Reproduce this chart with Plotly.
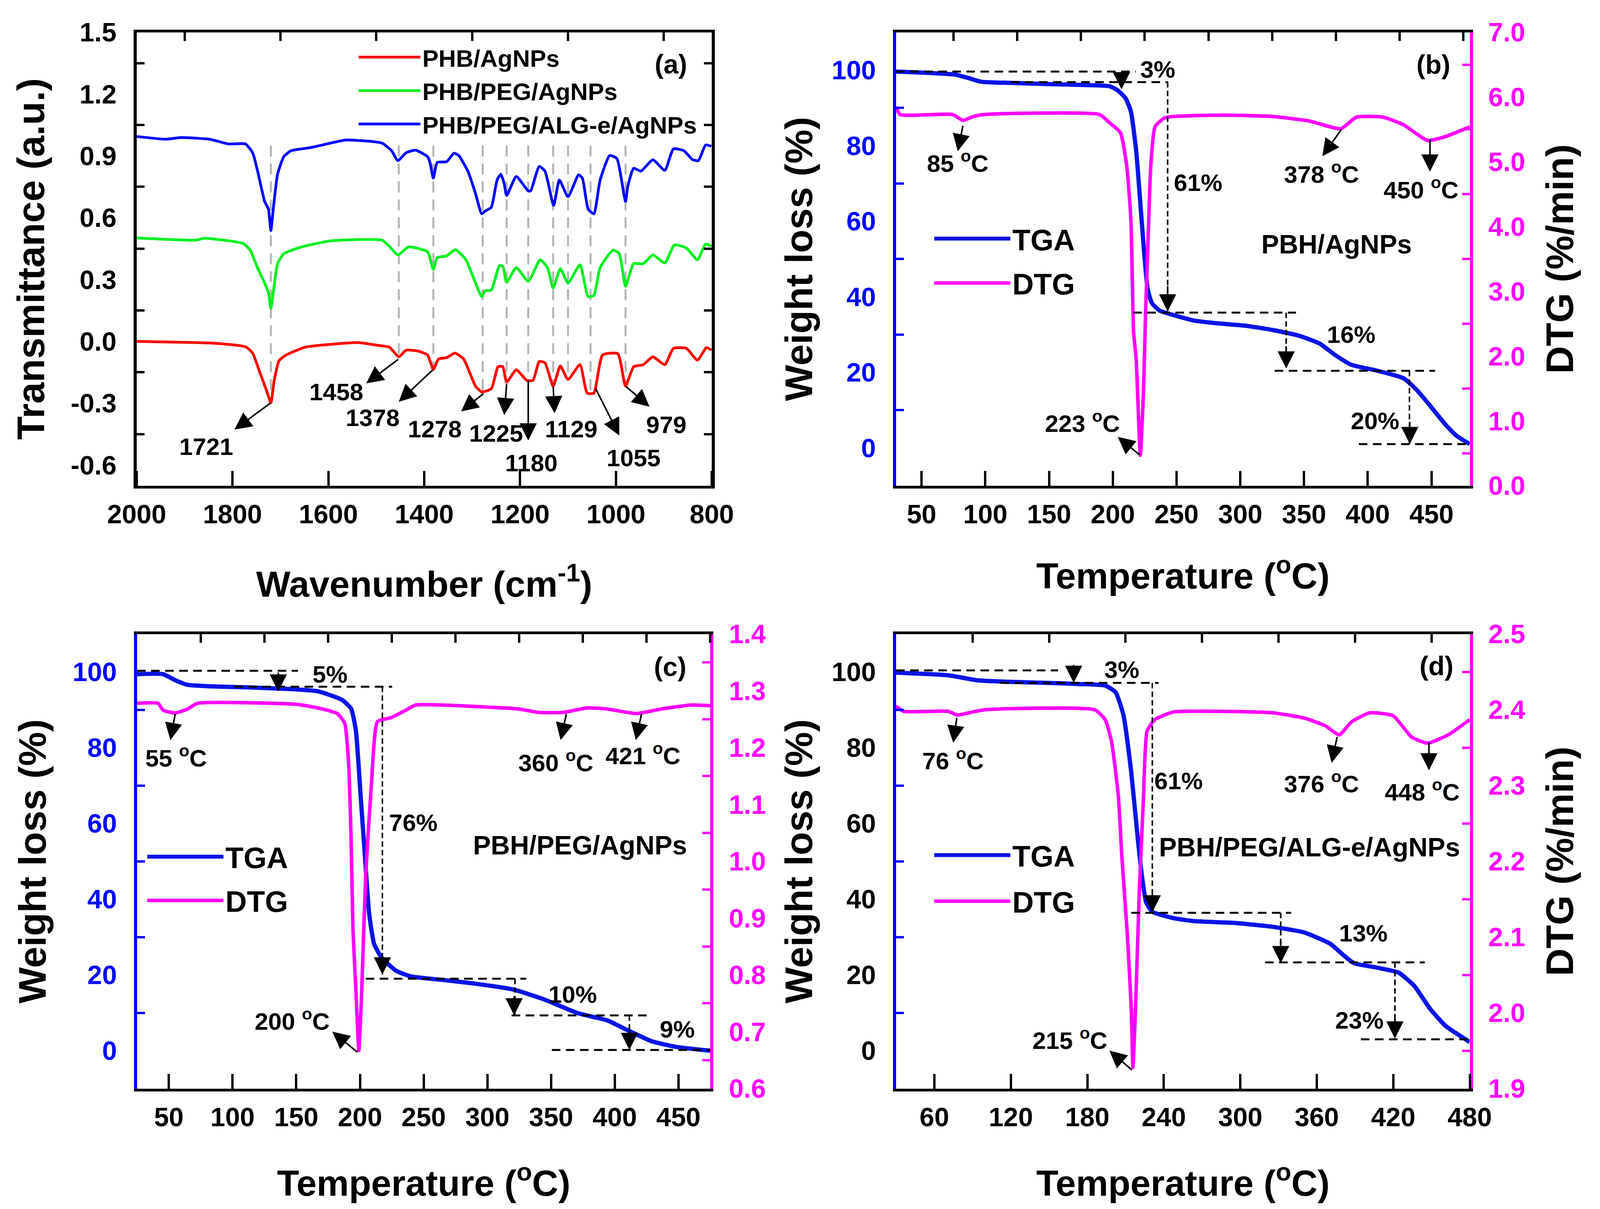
import plotly.graph_objects as go

W, H = 4237, 3096
FONT = "Liberation Sans"
BLUE = "#0000ff"
PINK = "#ff00ff"

# ---- panel a: FTIR
wn_red = [2000,1878,1838,1773,1758,1743,1728,1720,1713,1703,1688,1648,1598,1538,1498,1473,1453,1438,1413,1393,1381,1370,1353,1336,1318,1293,1280,1260,1246,1236,1228,1208,1186,1173,1160,1148,1131,1116,1100,1075,1060,1046,1028,996,980,963,943,923,898,880,853,830,811,801]
t_red = [0,-.006,-.009,-.026,-.057,-.151,-.245,-.298,-.189,-.094,-.066,-.028,-.015,-.006,-.019,-.028,-.075,-.043,-.047,-.066,-.136,-.085,-.079,-.057,-.085,-.217,-.245,-.230,-.123,-.123,-.198,-.138,-.189,-.189,-.098,-.104,-.217,-.119,-.185,-.113,-.251,-.251,-.066,-.060,-.217,-.123,-.113,-.075,-.113,-.034,-.034,-.091,-.030,-.043]
wn_green = [2000,1878,1858,1778,1763,1748,1733,1725,1720,1715,1706,1693,1658,1598,1538,1488,1473,1455,1433,1393,1381,1373,1353,1335,1313,1293,1280,1273,1260,1243,1236,1228,1208,1183,1158,1143,1131,1116,1100,1075,1058,1046,1033,1006,993,980,963,943,923,898,878,853,830,813,801]
t_green = [.502,.491,.5,.475,.443,.358,.283,.236,.160,.236,.377,.425,.457,.487,.494,.491,.462,.419,.458,.434,.349,.406,.415,.445,.396,.283,.217,.245,.249,.368,.364,.287,.358,.292,.396,.358,.260,.353,.283,.372,.217,.223,.358,.443,.425,.268,.377,.377,.419,.381,.468,.453,.396,.472,.462]
wn_blue = [2000,1938,1908,1848,1808,1773,1758,1748,1733,1725,1720,1715,1706,1693,1678,1638,1588,1563,1518,1488,1468,1455,1438,1418,1393,1388,1381,1373,1353,1338,1328,1308,1293,1280,1273,1260,1248,1240,1233,1228,1208,1183,1178,1160,1148,1130,1118,1100,1078,1070,1058,1046,1033,1013,998,983,980,975,963,948,923,898,880,858,841,828,813,801]
t_blue = [.994,.981,.989,.981,.958,.958,.915,.830,.679,.642,.538,.642,.811,.896,.925,.940,.966,.977,.972,.962,.925,.877,.915,.928,.896,.868,.792,.868,.872,.913,.902,.821,.717,.619,.632,.651,.783,.811,.764,.708,.800,.730,.730,.849,.826,.660,.783,.702,.808,.792,.642,.619,.783,.902,.887,.708,.679,.755,.840,.826,.881,.830,.934,.925,.883,.877,.953,.947]

# ---- panel b
tga_b_x = [30,57.8,76.3,86.6,96.9,119.5,148.4,181.3,197.7,203.9,210.1,214.2,218.3,221.2,224.5,227.4,230.7,236.8,247.1,263.6,284.2,304.7,325.3,345.9,362.3,374.7,387,407.6,428.2,438.5,448.8,461.1,469.3,480]
tga_b_y = [99.6,99.2,98.8,97.9,96.9,96.6,96.3,96,95.7,94.6,92.5,89,78.7,66.5,52.1,41.9,38.3,36.3,35.2,33.7,32.9,32.3,31.2,29.7,27.6,24.5,22,20.4,18.4,15.3,11.2,6.1,3.3,1]
dtg_b_x = [30,33.1,74.3,82.5,90.7,99,189.5,197.7,206,210.9,214.2,216.3,218.3,221.6,224.1,225.7,227.4,229.8,233.1,240.9,284.2,325.3,354.1,378.8,391.2,411.7,428.2,446.7,461.1,480]
dtg_b_y = [5.85,5.73,5.73,5.64,5.70,5.73,5.73,5.60,5.45,4.94,4.10,2.37,1.96,0.47,1.48,2.67,3.63,4.94,5.54,5.68,5.72,5.70,5.63,5.51,5.69,5.69,5.57,5.33,5.39,5.54]

# ---- panel c
tga_c_x = [25,45.4,55,64.6,82,112.8,143.6,166.8,186,193,196.8,200.7,204.1,207.2,211.1,216.9,228.4,240,267,290.1,320.9,344,371,394.1,409.5,428.8,448.1,475]
tga_c_y = [99.4,99.4,97.8,96.6,96.2,95.9,95.5,94.9,92.6,90.3,84.5,66.4,50.3,36.2,28.2,24.6,21.1,19.6,18.6,17.7,16.1,13.6,9.9,8,5.5,2.5,1,0]
dtg_c_x = [25,41.5,45.4,55,64.6,72.4,151.3,170.6,182.2,188,191,193,194.5,196.8,199.1,201.4,204.5,209.2,213.8,224.6,236.1,243.8,286.2,324.8,340.2,359.4,378.7,394.1,417.2,436.5,459.6,475]
dtg_c_y = [1.278,1.278,1.266,1.261,1.268,1.278,1.276,1.268,1.260,1.243,1.176,1.042,.881,.774,.667,.774,.975,1.143,1.246,1.253,1.266,1.275,1.273,1.268,1.262,1.262,1.270,1.268,1.260,1.268,1.275,1.274]

# ---- panel d
tga_d_x = [30,70.7,93.3,115.9,148.8,173.4,194,202.2,208.4,214.5,219.5,222.8,226.1,231,247.4,263.9,296.7,325.5,350.2,370.7,381,389.2,407.7,424.2,436.5,448.8,461.2,480]
tga_d_y = [99.8,99.1,97.8,97.4,97.1,96.8,96.4,94.6,88.5,73.4,56.3,46.3,39.2,36.7,35,34.2,33.7,32.7,31.2,28.2,25.2,23.1,21.9,20.6,17.1,11.1,6.5,2.3]
dtg_d_x = [30,35.7,70.7,78.1,87.1,99.5,185.8,194,198.9,204.3,207.1,211.3,214.5,215.8,217.8,220.7,224,226.9,233,247.4,284.4,325.5,350.2,366.6,377.7,387.2,401.6,420,434.4,446.8,463.2,480]
dtg_d_y = [2.405,2.398,2.398,2.393,2.396,2.400,2.400,2.387,2.359,2.287,2.206,2.106,2.005,1.928,2.005,2.156,2.282,2.372,2.387,2.397,2.398,2.396,2.389,2.379,2.367,2.384,2.396,2.392,2.364,2.356,2.367,2.387]

# tick labels
a_x_ticks = [2000,1800,1600,1400,1200,1000,800]
a_x_top = [1900,1700,1500,1300,1100,900]
a_y_ticks = [-0.6,-0.3,0,0.3,0.6,0.9,1.2,1.5]
a_y_text = ["-0.6","-0.3","0.0","0.3","0.6","0.9","1.2","1.5"]
a_y_minor = [-0.45,-0.15,0.15,0.45,0.75,1.05,1.35]
w_ticks = [0,20,40,60,80,100]
w_minor = [10,30,50,70,90]
t50_ticks = [50,100,150,200,250,300,350,400,450]
t50_top = [75,125,175,225,275,325,375,425,475]
t60_ticks = [60,120,180,240,300,360,420,480]
t60_top = [90,150,210,270,330,390,450]
b_r_ticks = [0,1,2,3,4,5,6,7]
b_r_text = ["0.0","1.0","2.0","3.0","4.0","5.0","6.0","7.0"]
b_r_minor = [.5,1.5,2.5,3.5,4.5,5.5,6.5]
c_r_ticks = [.6,.7,.8,.9,1.0,1.1,1.2,1.3,1.4]
c_r_text = ["0.6","0.7","0.8","0.9","1.0","1.1","1.2","1.3","1.4"]
c_r_minor = [.65,.75,.85,.95,1.05,1.15,1.25,1.35]
d_r_ticks = [1.9,2.0,2.1,2.2,2.3,2.4,2.5]
d_r_text = ["1.9","2.0","2.1","2.2","2.3","2.4","2.5"]
d_r_minor = [1.95,2.05,2.15,2.25,2.35,2.45]

# frame of each panel in page pixels: left, right, top, bottom
frames = {"a": (355,1884,75,1242), "b": (2374,3899,75,1242), "c": (356,1880,1624,2794), "d": (2374,3899,1624,2794)}
axis_ids = {"a": ("","2"), "b": ("3","4"), "c": ("5","6"), "d": ("7","8")}
x_standoff = {"a": 112, "b": 91, "c": 102, "d": 102}
y_standoff = {"a": 38, "b": 20, "c": 38, "d": 20}

fig = go.Figure()

def f(size, color="black"):
    return dict(family=FONT, size=size, color=color, weight=700)

TICK = 68

def panel_axes(p, xr, yr, y2r, xt, xtop, yt, ytext, ymin, y2t, y2text, y2min, left, right, lefttext, xtitle, ytitle, y2title):
    l, r, t, b = frames[p]
    dx = [l/W, r/W]
    dy = [1-b/H, 1-t/H]
    n1, n2 = axis_ids[p]
    fig.layout["xaxis"+n1] = dict(domain=dx, range=xr, anchor="y"+n1, side="bottom", showgrid=False, zeroline=False, automargin=False,
        showline=True, linecolor="black", linewidth=7, tickmode="array", tickvals=xt, ticks="",
        minor=dict(tickmode="array", tickvals=xt, ticks="inside", ticklen=38, tickwidth=6, tickcolor="black", showgrid=False),
        tickfont=f(TICK), ticklabelstandoff=8,
        title=dict(text=xtitle, font=f(93), standoff=x_standoff[p]))
    fig.layout["yaxis"+n1] = dict(domain=dy, range=yr, anchor="x"+n1, side="left", showgrid=False, zeroline=False, automargin=False,
        showline=True, linecolor=left, linewidth=8, tickmode="array", tickvals=yt, ticktext=ytext, ticks="",
        tickfont=f(TICK, lefttext), ticklabelstandoff=30,
        minor=dict(tickmode="array", tickvals=ymin, ticks="inside", ticklen=20, tickwidth=6, tickcolor=left, showgrid=False),
        title=dict(text=ytitle, font=f(98), standoff=y_standoff[p]))
    fig.layout["xaxis"+n2] = dict(domain=dx, range=xr, anchor="y"+n2, overlaying="x"+n1, side="top", showgrid=False, zeroline=False, automargin=False,
        showline=True, linecolor="black", linewidth=7, tickmode="array", tickvals=xtop, ticks="",
        minor=dict(tickmode="array", tickvals=xtop, ticks="inside", ticklen=22, tickwidth=6, tickcolor="black", showgrid=False),
        showticklabels=False)
    y2 = dict(domain=dy, range=y2r, anchor="x"+n2, overlaying="y"+n1, side="right", showgrid=False, zeroline=False, automargin=False,
        showline=True, linecolor=right, linewidth=8, tickmode="array", tickvals=y2t, ticks="",
        minor=dict(tickmode="array", tickvals=y2min, ticks="inside", ticklen=20, tickwidth=6, tickcolor=right, showgrid=False))
    if y2text:
        y2.update(ticktext=y2text, tickfont=f(TICK, right), ticklabelstandoff=26)
    else:
        y2.update(showticklabels=False)
    if y2title:
        y2["title"] = dict(text=y2title, font=f(98), standoff=58)
    fig.layout["yaxis"+n2] = y2

panel_axes("a", [2000,800], [-0.7,1.5], [-0.7,1.5], a_x_ticks, a_x_top, a_y_ticks, a_y_text, a_y_minor, a_y_ticks, None, a_y_minor,
           "black", "black", "black", "Wavenumber (cm<sup>-1</sup>)", "Transmittance (a.u.)", None)
panel_axes("b", [30,480], [-10,110], [0,7], t50_ticks, t50_top, w_ticks, None, w_minor, b_r_ticks, b_r_text, b_r_minor,
           BLUE, PINK, BLUE, "Temperature (<sup>o</sup>C)", "Weight loss (%)", "DTG (%/min)")
panel_axes("c", [25,475], [-10,110], [.6,1.4], t50_ticks, t50_top, w_ticks, None, w_minor, c_r_ticks, c_r_text, c_r_minor,
           BLUE, PINK, BLUE, "Temperature (<sup>o</sup>C)", "Weight loss (%)", None)
panel_axes("d", [30,480], [-10,110], [1.9,2.5], t60_ticks, t60_top, w_ticks, None, w_minor, d_r_ticks, d_r_text, d_r_minor,
           BLUE, PINK, "black", "Temperature (<sup>o</sup>C)", "Weight loss (%)", "DTG (%/min)")

# curves
smooth = dict(shape="spline", smoothing=0.5)
fig.add_trace(go.Scatter(x=wn_red, y=t_red, name="PHB/AgNPs", mode="lines", line=dict(color="#ff0000", width=7, **smooth), xaxis="x", yaxis="y", legend="legend", legendgroup="r"))
fig.add_trace(go.Scatter(x=wn_green, y=t_green, name="PHB/PEG/AgNPs", mode="lines", line=dict(color="#00f020", width=7, **smooth), xaxis="x", yaxis="y", legend="legend", legendgroup="g"))
fig.add_trace(go.Scatter(x=wn_blue, y=t_blue, name="PHB/PEG/ALG-e/AgNPs", mode="lines", line=dict(color="#0000ff", width=7, **smooth), xaxis="x2", yaxis="y2", legend="legend", legendgroup="b"))

tga_dtg = [("b", "legend2", tga_b_x, tga_b_y, dtg_b_x, dtg_b_y),
           ("c", "legend3", tga_c_x, tga_c_y, dtg_c_x, dtg_c_y),
           ("d", "legend4", tga_d_x, tga_d_y, dtg_d_x, dtg_d_y)]
for p, leg, tx, ty, dx_, dy_ in tga_dtg:
    n1, n2 = axis_ids[p]
    fig.add_trace(go.Scatter(x=dx_, y=dy_, name="DTG", legendrank=2, mode="lines", line=dict(color=PINK, width=9, **smooth),
                             xaxis="x"+n2, yaxis="y"+n2, legend=leg, legendgroup=p+"dtg"))
    fig.add_trace(go.Scatter(x=tx, y=ty, name="TGA", legendrank=1, mode="lines", line=dict(color="#0a14e6", width=11, **smooth),
                             xaxis="x"+n1, yaxis="y"+n1, legend=leg, legendgroup=p+"tga"))

def legend_at(x, y, size, width, gap=0):
    return dict(x=x/W, y=1-y/H, xanchor="left", yanchor="top", font=f(size), itemwidth=width, bgcolor="rgba(0,0,0,0)",
                borderwidth=0, tracegroupgap=gap, traceorder="grouped", itemclick=False)

fig.update_layout(legend=legend_at(940, 92, 62, 158, 2),
                  legend2=legend_at(2470, 550, 76, 195, 12),
                  legend3=legend_at(378, 2141, 76, 195, 10),
                  legend4=legend_at(2470, 2137, 76, 195, 16))

# dashed guide lines, x0 y0 x1 y1
grey_a = [(1720,.95,-.3),(1453,.95,-.08),(1381,.95,-.13),(1278,.95,-.25),(1228,.95,-.2),(1183,.95,-.19),(1131,.95,-.22),(1100,.95,-.18),(1053,.95,-.25),(980,.95,-.2)]
dash_b = [(30,99.6,218,99.6),(120,96.8,243.4,96.8),(243,96.8,243,36),(216,35.8,343.7,35.8),(336,35.8,336,21.5),(327,20.4,452.8,20.4),(432.7,20.4,432.7,1),(393,1,480,1)]
dash_c = [(25,100.3,151.3,100.3),(101.3,96.1,225.3,96.1),(217.6,96.1,217.6,20.1),(204.5,19,330.5,19),(321.7,19,321.7,9.3),(319,9.3,425,9.3),(411.5,9.3,411.5,.2),(350.6,.2,475,.2)]
dash_d = [(30,100.4,157,100.4),(111.8,97.1,235.9,97.1),(231,97.1,231,37.2),(214.5,36.4,339.9,36.4),(331.7,36.4,331.7,23.6),(319.4,23.3,444.7,23.3),(421.3,23.3,421.3,3.5),(394.6,3,480,3)]

# arrows: tail x, tail y, tip x, tip y
arrow_a = [(1720,-.298,1796,-.428),(1453,-.085,1521,-.204),(1381,-.136,1453,-.293),(1275,-.251,1323,-.340),(1228,-.204,1233,-.358),
           (1183,-.189,1183,-.481),(1131,-.217,1128,-.349),(1043,-.226,993,-.457),(980,-.217,930,-.317)]
arrow_b = [(206.8,99.6,206.8,94.9),(243,43,243,36.1),(336,27,336,21),(433,7,433,1),(82.5,85.4,78.4,78.5),(379.6,84.4,364.4,77.2),(448.8,81.8,448.8,73.1),(221.6,-2,203.9,2.9)]
arrow_c = [(135.9,100,135.9,94.8),(217.6,26,217.6,20.1),(321,14.5,321,9.3),(411.5,5.5,411.5,.2),(55,89,51.2,82),(362.1,89,357.5,82),(421.1,89,416.5,82),(198.4,-.5,178.3,5)]
arrow_d = [(169.3,102,169.3,97.1),(231,42,231,36.5),(331.7,29,331.7,23.1),(421.3,9,421.3,3.2),(77.7,88,74.8,81.3),(376.1,83,371.6,76),(448,81.5,448,74),(215.4,-5.2,197.3,0)]

# text notes: text, x, y
notes_a = [("1721",1855,-.51),("1458",1583,-.245),("1378",1508,-.37),("1278",1378,-.425),("1225",1250,-.445),("1180",1176,-.59),("1129",1093,-.425),("1055",963,-.565),("979",895,-.405)]
notes_b = [("3%",235.2,100.2),("85 <sup>o</sup>C",78.4,75.7),("61%",266.9,70.2),("378 <sup>o</sup>C",363.6,72.9),("450 <sup>o</sup>C",441.8,68.7),("16%",387,30),("20%",405.6,7.2),("223 <sup>o</sup>C",176.3,6.9)]
notes_c = [("5%",176.4,99.4),("55 <sup>o</sup>C",55.8,77.7),("360 <sup>o</sup>C",353.7,76.5),("421 <sup>o</sup>C",422.2,78.3),("76%",241.9,60.2),("10%",367.1,14.9),("9%",449.2,5.7),("200 <sup>o</sup>C",146.7,8.2)]
notes_d = [("3%",207.1,100.6),("76 <sup>o</sup>C",74.8,77),("376 <sup>o</sup>C",363.7,70.9),("448 <sup>o</sup>C",442.7,68.7),("61%",251.5,71.2),("13%",396.6,31),("23%",393.3,8),("215 <sup>o</sup>C",166.5,3.2)]
# panel tags and sample names are set a little larger
big_a = [("(a)",885,1.345)]
big_b = [("(b)",451.6,101.5),("PBH/AgNPs",375.5,53.9)]
big_c = [("(c)",443.5,101.4),("PBH/PEG/AgNPs",372.9,54.3)]
big_d = [("(d)",453.8,101.6),("PBH/PEG/ALG-e/AgNPs",354.3,53.8)]

for x, y0, y1 in grey_a:
    fig.add_shape(type="line", xref="x", yref="y", x0=x, x1=x, y0=y0, y1=y1, layer="below",
                  line=dict(color="#b4b4b4", width=5, dash="28px,18px"))

panels = [("a", [], arrow_a, notes_a, big_a), ("b", dash_b, arrow_b, notes_b, big_b),
          ("c", dash_c, arrow_c, notes_c, big_c), ("d", dash_d, arrow_d, notes_d, big_d)]
for p, dashes, arrows, notes, big in panels:
    n1 = axis_ids[p][0]
    for x0, y0, x1, y1 in dashes:
        fig.add_shape(type="line", xref="x"+n1, yref="y"+n1, x0=x0, y0=y0, x1=x1, y1=y1,
                      line=dict(color="black", width=4 if x0 == x1 else 5, dash="22px,14px" if x0 != x1 else "14px,8px"))
    for x0, y0, x1, y1 in arrows:
        fig.add_annotation(xref="x"+n1, yref="y"+n1, axref="x"+n1, ayref="y"+n1, x=x1, y=y1, ax=x0, ay=y0, text="",
                           showarrow=True, arrowhead=2, arrowsize=2.2, arrowwidth=4, arrowcolor="black")
    for text, x, y in notes:
        fig.add_annotation(xref="x"+n1, yref="y"+n1, x=x, y=y, text=text, showarrow=False, font=f(62))
    for text, x, y in big:
        fig.add_annotation(xref="x"+n1, yref="y"+n1, x=x, y=y, text=text, showarrow=False, font=f(68))

# size comes from the browser window
fig.update_layout(margin=dict(l=0, r=0, t=0, b=0), paper_bgcolor="white", plot_bgcolor="white",
                  showlegend=True, font=dict(family=FONT))
fig.write_html("out.html")
